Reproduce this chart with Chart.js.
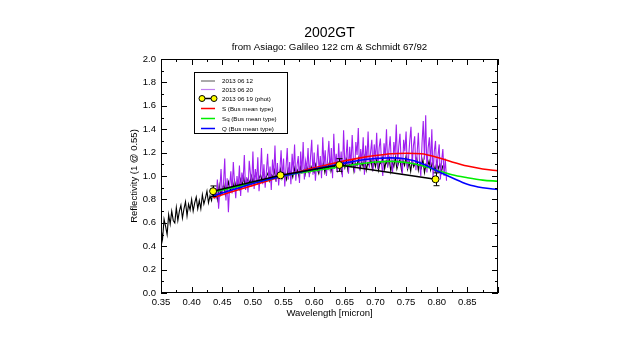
<!DOCTYPE html>
<html>
<head>
<meta charset="utf-8">
<script src="https://cdn.jsdelivr.net/npm/chart.js@4/dist/chart.umd.min.js"></script>
<style>
html,body{margin:0;padding:0;background:#fff;}
#wrap{width:625px;height:352px;position:relative;}
</style>
</head>
<body>
<div id="wrap"><canvas id="c" width="625" height="352"></canvas></div>
<script>
// ---- data ----
const chartTitle = '2002GT';
const chartSubtitle = 'from Asiago: Galileo 122 cm & Schmidt 67/92';
const xTitle = 'Wavelength [micron]';
const yTitle = 'Reflectivity (1 @ 0.55)';
const seriesNames = ['2013 06 12', '2013 06 20', '2013 06 19 (phot)', 'S (Bus mean type)', 'Sq (Bus mean type)', 'Q (Bus mean type)'];

// spectrum 2013 06 12 (wavelength grid start / step in micron)
const black0612Start = 0.35, black0612Step = 0.0025;
const black0612 = [
0.55,0.46,0.63,0.57,0.50,0.67,0.59,0.70,0.62,0.60,
0.73,0.62,0.70,0.75,0.64,0.72,0.78,0.66,0.76,0.71,
0.80,0.70,0.77,0.82,0.72,0.79,0.72,0.84,0.76,0.81,
0.87,0.77,0.83,0.79,0.89,0.82,0.87,0.80,0.92,0.84,
0.88,0.93,0.84,0.90,0.95,0.87,0.91,0.89,0.96,0.90,
0.94,0.89,0.97,0.92,0.99,0.91,0.95,0.98,0.93,1.00,
0.95,0.99,1.02,0.94,0.98,1.01,0.96,1.04,0.97,1.00,
1.03,0.96,1.01,0.99,1.05,0.97,1.02,1.00,1.06,0.98,
1.03,1.01,0.97,1.06,1.02,1.04,0.99,1.07,1.01,1.05,
1.00,1.08,1.03,1.05,1.01,1.09,1.04,1.02,1.08,1.05,
1.03,1.10,1.06,1.02,1.09,1.05,1.11,1.03,1.08,1.06,
1.12,1.04,1.09,1.07,1.13,1.05,1.10,1.08,1.03,1.12,
1.07,1.14,1.05,1.10,1.08,1.13,1.04,1.11,1.09,1.15,
1.06,1.12,1.08,1.16,1.05,1.11,1.09,1.14,1.06,1.13,
1.08,1.15,1.05,1.12,1.10,1.17,1.06,1.13,1.09,1.15,
1.04,1.12,1.08,1.16,1.06,1.11,1.14,1.05,1.13,1.09,
1.17,1.06,1.12,1.04,1.14,1.08,1.11,1.15,1.05,1.12,
1.07,1.14,1.03,1.10,1.08,1.13,1.05,1.11,1.09,1.04,
1.12,1.06,1.10,1.03,1.09
];

// spectrum 2013 06 20
const violet0620Start = 0.44, violet0620Step = 0.002;
const violet0620 = [
0.80,0.97,0.72,0.88,1.06,0.84,0.93,1.15,0.79,0.98,
0.69,0.91,1.04,0.85,1.12,0.94,0.81,1.00,0.90,1.09,
0.83,1.03,0.95,1.18,0.88,0.99,0.86,1.13,1.02,0.91,
1.21,0.89,1.06,0.94,1.16,0.87,1.01,1.24,0.93,1.10,
0.90,1.04,1.19,0.96,1.08,0.88,1.14,1.00,1.26,0.95,
1.11,0.92,1.05,1.22,0.98,1.15,0.91,1.07,1.24,0.97,
1.12,0.93,1.19,1.03,1.27,0.96,1.09,1.17,0.94,1.21,
1.02,1.29,0.97,1.13,1.06,1.24,0.99,1.16,1.31,1.01,
1.20,0.96,1.10,1.27,1.03,1.17,0.98,1.33,1.08,1.22,
1.00,1.15,1.30,1.04,1.24,0.98,1.36,1.09,1.19,1.03,
1.28,1.06,1.21,0.99,1.39,1.10,1.16,1.31,1.02,1.25,
1.08,1.35,1.14,1.03,1.29,1.18,1.41,1.05,1.23,1.11,
1.33,1.01,1.26,1.12,1.38,1.07,1.20,1.31,1.04,1.27,
1.13,1.37,1.06,1.24,1.32,1.10,1.00,1.28,1.16,1.40,
1.07,1.22,1.34,1.11,1.03,1.29,1.18,1.44,1.08,1.25,
1.36,1.12,1.02,1.31,1.21,1.38,1.06,1.15,1.30,1.42,
1.09,1.26,1.34,1.05,1.19,1.37,1.11,1.00,1.28,1.47,
1.14,1.52,1.03,1.24,1.33,1.09,1.40,0.99,1.21,1.30,
1.02,1.17,1.27,0.97,1.13,1.23,1.00,1.15,0.96
];

// photometry 2013 06 19
const photWave = [0.435, 0.545, 0.641, 0.798];
const photRefl = [0.870, 1.006, 1.094, 0.972];
const photErr  = [0.045, 0.008, 0.054, 0.055];

// Bus mean taxonomic types
const modelWave = [0.435,0.45,0.475,0.50,0.525,0.55,0.575,0.60,0.625,0.65,0.675,0.70,0.725,0.75,0.775,0.80,0.825,0.85,0.875,0.90];
const sType  = [0.815,0.84,0.88,0.92,0.96,1.00,1.035,1.07,1.10,1.13,1.155,1.175,1.19,1.195,1.19,1.16,1.12,1.085,1.06,1.045];
const sqType = [0.865,0.88,0.91,0.94,0.97,1.00,1.025,1.045,1.065,1.085,1.105,1.12,1.125,1.115,1.09,1.05,1.01,0.985,0.965,0.955];
const qType  = [0.83,0.855,0.895,0.935,0.97,1.00,1.03,1.06,1.085,1.11,1.135,1.15,1.155,1.145,1.11,1.045,0.985,0.93,0.90,0.885];

// axes
const xMin = 0.35, xMax = 0.90, xMajor = 0.05, xMinor = 0.025;
const yMin = 0.0, yMax = 2.0, yMajor = 0.2, yMinor = 0.1;

// ---- build ----
const FONT = "'Liberation Sans', Arial, Helvetica, sans-serif";
const toXY = (start, step, arr) => arr.map((v, i) => ({x: +(start + i * step).toFixed(5), y: v}));
const pair = (xs, ys) => xs.map((x, i) => ({x: x, y: ys[i]}));

const COLORS = {black: '#000000', violet: '#a020f0', red: '#ff0000', green: '#00ee00', blue: '#0000ff', yellow: '#ffff00'};

const frameTicks = {
  id: 'frameTicks',
  afterDatasetsDraw(chart) {
    const {ctx, chartArea: a, scales: {x, y}} = chart;
    ctx.save();
    ctx.strokeStyle = '#000';
    ctx.lineWidth = 1;
    ctx.strokeRect(Math.round(a.left) + 0.5, Math.round(a.top) + 0.5, Math.round(a.right - a.left) - 1, Math.round(a.bottom - a.top) - 1);
    ctx.beginPath();
    const nx = Math.round((xMax - xMin) / xMinor);
    for (let i = 0; i <= nx; i++) {
      const px = Math.round(x.getPixelForValue(xMin + i * xMinor)) + 0.5;
      const len = i % 2 === 0 ? 6 : 3;
      ctx.moveTo(px, a.bottom); ctx.lineTo(px, a.bottom - len);
      ctx.moveTo(px, a.top); ctx.lineTo(px, a.top + len);
    }
    const ny = Math.round((yMax - yMin) / yMinor);
    for (let i = 0; i <= ny; i++) {
      const py = Math.round(y.getPixelForValue(yMin + i * yMinor)) + 0.5;
      const len = i % 2 === 0 ? 6 : 3;
      ctx.moveTo(a.left, py); ctx.lineTo(a.left + len, py);
      ctx.moveTo(a.right, py); ctx.lineTo(a.right - len, py);
    }
    ctx.stroke();
    ctx.restore();
  },
  afterDraw(chart) {
    const {ctx, chartArea: a} = chart;
    const cx = (a.left + a.right) / 2;
    ctx.save();
    ctx.fillStyle = '#000';
    ctx.textAlign = 'center';
    ctx.textBaseline = 'middle';
    ctx.font = '14px ' + FONT;
    ctx.fillText(chartTitle, cx, 33);
    ctx.font = '9.7px ' + FONT;
    ctx.fillText(chartSubtitle, cx, 47);
    // legend
    const lx = 194.5, ly = 72.5, lw = 93, lh = 61;
    ctx.fillStyle = '#fff';
    ctx.fillRect(lx, ly, lw, lh);
    ctx.strokeStyle = '#000';
    ctx.lineWidth = 1;
    ctx.strokeRect(lx, ly, lw, lh);
    const rows = [81, 89.5, 98.5, 108.5, 118.5, 128.5];
    const cols = [COLORS.black, '#c07ff0', COLORS.black, COLORS.red, COLORS.green, COLORS.blue];
    const widths = [1, 1.2, 1.5, 1.5, 1.5, 1.5];
    ctx.font = '6.2px ' + FONT;
    ctx.textAlign = 'left';
    for (let i = 0; i < rows.length; i++) {
      ctx.strokeStyle = i === 0 ? '#555' : cols[i];
      ctx.lineWidth = widths[i];
      ctx.beginPath();
      ctx.moveTo(201, rows[i]); ctx.lineTo(215, rows[i]);
      ctx.stroke();
      if (i === 2) {
        for (const px of [202, 214]) {
          ctx.beginPath();
          ctx.arc(px, rows[i], 3, 0, Math.PI * 2);
          ctx.fillStyle = COLORS.yellow; ctx.fill();
          ctx.lineWidth = 1; ctx.strokeStyle = '#000'; ctx.stroke();
        }
      }
      ctx.fillStyle = '#000';
      ctx.fillText(seriesNames[i], 222, rows[i] + 0.5);
    }
    ctx.restore();
  },
  beforeDatasetDraw(chart, args) {
    if (args.meta.label !== seriesNames[2]) return;
    const {ctx, scales: {x, y}} = chart;
    ctx.save();
    ctx.strokeStyle = '#000';
    ctx.lineWidth = 1;
    ctx.beginPath();
    photWave.forEach((w, i) => {
      const px = Math.round(x.getPixelForValue(w)) + 0.5;
      const top = y.getPixelForValue(photRefl[i] + photErr[i]);
      const bot = y.getPixelForValue(photRefl[i] - photErr[i]);
      ctx.moveTo(px, top); ctx.lineTo(px, bot);
      ctx.moveTo(px - 3, top); ctx.lineTo(px + 3, top);
      ctx.moveTo(px - 3, bot); ctx.lineTo(px + 3, bot);
    });
    ctx.stroke();
    ctx.restore();
  }
};

const lineDs = (label, data, color, width, order) => ({
  label, data, borderColor: color, backgroundColor: color, borderWidth: width,
  pointRadius: 0, tension: 0, order, fill: false
});

new Chart(document.getElementById('c'), {
  type: 'line',
  data: {
    datasets: [
      lineDs(seriesNames[0], toXY(black0612Start, black0612Step, black0612), COLORS.black, 1.1, 6),
      lineDs(seriesNames[1], toXY(violet0620Start, violet0620Step, violet0620), COLORS.violet, 1.1, 5),
      Object.assign(lineDs(seriesNames[3], pair(modelWave, sType), COLORS.red, 1.6, 4), {cubicInterpolationMode: 'monotone'}),
      Object.assign(lineDs(seriesNames[4], pair(modelWave, sqType), COLORS.green, 1.6, 3), {cubicInterpolationMode: 'monotone'}),
      Object.assign(lineDs(seriesNames[5], pair(modelWave, qType), COLORS.blue, 1.6, 2), {cubicInterpolationMode: 'monotone'}),
      Object.assign(lineDs(seriesNames[2], pair(photWave, photRefl), COLORS.black, 1.6, 1), {
        pointRadius: 3.5, pointBackgroundColor: COLORS.yellow, pointBorderColor: '#000', pointBorderWidth: 1
      })
    ]
  },
  options: {
    responsive: false,
    animation: false,
    devicePixelRatio: 1,
    layout: {padding: {left: 120, right: 127, top: 59, bottom: 0}},
    plugins: {legend: {display: false}, tooltip: {enabled: false}, title: {display: false}},
    scales: {
      x: {
        type: 'linear', min: xMin, max: xMax,
        grid: {display: false, drawTicks: false},
        border: {display: false},
        ticks: {stepSize: xMajor, color: '#000', padding: 4, maxRotation: 0, autoSkip: false,
          font: {family: FONT, size: 9.5},
          callback: v => (v > xMax - 1e-6 ? '' : v.toFixed(2))},
        title: {display: true, text: xTitle, color: '#000', font: {family: FONT, size: 9.5}, padding: {top: 0, bottom: 33}},
        afterFit: s => { s.height = 59; }
      },
      y: {
        type: 'linear', min: yMin, max: yMax,
        grid: {display: false, drawTicks: false},
        border: {display: false},
        ticks: {stepSize: yMajor, color: '#000', padding: 5, autoSkip: false,
          font: {family: FONT, size: 9.5},
          callback: v => v.toFixed(1)},
        title: {display: true, text: yTitle, color: '#000', font: {family: FONT, size: 9.5}, padding: {top: 9, bottom: 0}},
        afterFit: s => { s.width = 41; }
      }
    }
  },
  plugins: [frameTicks]
});
</script>
</body>
</html>
